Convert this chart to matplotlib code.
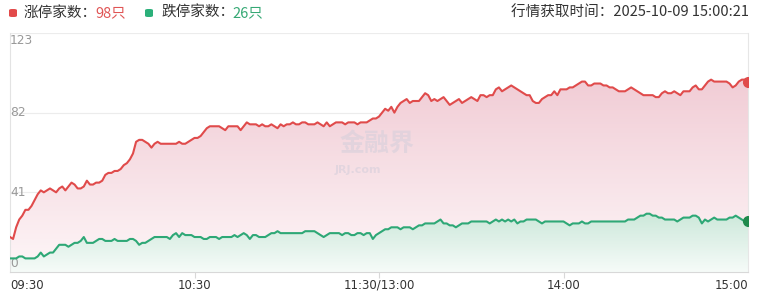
import numpy as np
import matplotlib
matplotlib.use("Agg")
import matplotlib.pyplot as plt
from matplotlib.patches import FancyBboxPatch, PathPatch

plt.rcParams['font.family'] = ['Noto Sans CJK SC', 'DejaVu Sans']

# limit-up / limit-down counts, one value per trading minute (09:30 .. 15:00)
limit_up = [
    18, 17, 23, 27, 29, 32, 32, 34, 37, 40,
    42, 41, 42, 43, 42, 41, 43, 44, 42, 44,
    46, 45, 43, 43, 44, 47, 45, 45, 46, 46,
    47, 50, 51, 51, 52, 52, 53, 55, 56, 58,
    61, 67, 68, 68, 67, 66, 64, 66, 67, 66,
    66, 66, 66, 66, 66, 67, 66, 66, 67, 68,
    69, 69, 70, 72, 74, 75, 75, 75, 75, 74,
    73, 75, 75, 75, 75, 73, 75, 77, 76, 76,
    76, 75, 76, 75, 75, 76, 75, 74, 76, 75,
    76, 76, 77, 76, 76, 77, 77, 76, 76, 76,
    77, 76, 75, 77, 75, 76, 77, 77, 77, 76,
    77, 77, 77, 76, 77, 77, 77, 78, 79, 79,
    80, 82, 84, 83, 85, 82, 85, 87, 88, 89,
    87, 88, 88, 88, 90, 92, 91, 88, 89, 88,
    89, 90, 88, 86, 87, 88, 89, 87, 88, 89,
    90, 89, 88, 91, 91, 90, 91, 91, 94, 95,
    93, 94, 95, 96, 95, 94, 93, 92, 91, 91,
    88, 87, 87, 89, 90, 91, 91, 93, 91, 94,
    94, 94, 95, 95, 96, 97, 98, 98, 96, 96,
    97, 97, 97, 96, 96, 95, 95, 94, 93, 93,
    93, 94, 95, 94, 93, 92, 91, 91, 91, 91,
    90, 90, 92, 93, 92, 92, 93, 92, 91, 93,
    93, 93, 95, 96, 94, 94, 96, 98, 99, 98,
    98, 98, 98, 98, 97, 95, 96, 98, 99, 99, 98,
]
limit_down = [
    7, 7, 7, 8, 8, 7, 7, 7, 7, 8,
    10, 8, 9, 10, 10, 12, 14, 14, 14, 13,
    14, 15, 15, 16, 18, 15, 15, 15, 16, 17,
    17, 16, 16, 16, 17, 16, 16, 16, 16, 17,
    17, 16, 14, 15, 15, 16, 17, 18, 18, 18,
    18, 18, 17, 19, 20, 18, 20, 19, 19, 19,
    18, 18, 18, 17, 17, 18, 18, 18, 17, 18,
    18, 18, 18, 19, 18, 19, 20, 19, 17, 19,
    19, 18, 18, 18, 19, 20, 20, 21, 20, 20,
    20, 20, 20, 20, 20, 20, 21, 21, 21, 21,
    20, 19, 18, 19, 20, 20, 20, 20, 19, 20,
    20, 19, 19, 20, 20, 19, 20, 20, 17, 19,
    20, 21, 22, 22, 23, 23, 23, 22, 23, 23,
    23, 22, 23, 24, 24, 25, 25, 25, 25, 26,
    27, 25, 25, 24, 24, 23, 24, 25, 25, 25,
    26, 26, 26, 26, 26, 26, 25, 26, 27, 26,
    27, 26, 27, 26, 27, 25, 26, 26, 27, 27,
    27, 27, 26, 25, 26, 26, 26, 26, 26, 26,
    26, 25, 24, 25, 25, 25, 26, 25, 25, 26,
    26, 26, 26, 26, 26, 26, 26, 26, 26, 26,
    26, 27, 27, 27, 28, 29, 29, 30, 30, 29,
    29, 28, 28, 27, 27, 27, 27, 26, 27, 28,
    28, 28, 29, 29, 28, 25, 27, 26, 27, 28,
    27, 27, 27, 27, 28, 28, 29, 28, 27, 26, 26,
]
x_tick_pos = [0, 60, 120, 180, 240]
x_tick_labels = ['09:30', '10:30', '11:30/13:00', '14:00', '15:00']
y_ticks = [0, 41, 82, 123]

RED = '#e04b4b'
GREEN = '#2ea876'

W, H = 763, 300
fig = plt.figure(figsize=(W / 100, H / 100), dpi=100)
ax = fig.add_axes([10 / W, 28 / H, 738 / W, 239 / H])

minutes = np.arange(len(limit_up))
ax.set_xlim(0, 240)
ax.set_ylim(0, 123)


def gradient_fill(x, y, top_rgb, bot_rgb, y_top, z):
    poly = ax.fill_between(x, y, 0, facecolor='none', edgecolor='none')
    clip = PathPatch(poly.get_paths()[0], transform=ax.transData,
                     facecolor='none', edgecolor='none')
    ax.add_patch(clip)
    t = np.linspace(0, 1, 200)[:, None]
    grad = np.zeros((200, 1, 3))
    for k in range(3):
        grad[:, :, k] = bot_rgb[k] + (top_rgb[k] - bot_rgb[k]) * t
    im = ax.imshow(grad, aspect='auto', extent=[0, 240, 0, y_top],
                   origin='lower', zorder=z, interpolation='bilinear')
    im.set_clip_path(clip)


gradient_fill(minutes, limit_up, (0.945, 0.80, 0.835), (0.995, 0.965, 0.972), 100, 1)
gradient_fill(minutes, limit_down, (0.80, 0.91, 0.855), (0.965, 0.985, 0.975), 30, 2)

# grid
for v in y_ticks[1:]:
    ax.axhline(v, color='#ececec', lw=0.8, zorder=0.5)

# watermark
ax.text(119.5, 66, '金融界', ha='center', va='center', fontsize=18, fontweight='bold',
        color='#d6cfdb', alpha=0.6, zorder=3)
ax.text(113, 52.5, 'JRJ.com', ha='center', va='center', fontsize=8, fontweight='bold',
        color='#d6cfdb', alpha=0.6, zorder=3, family=['DejaVu Sans'])

ax.plot(minutes, limit_up, color=RED, lw=1.5, zorder=4)
ax.plot(minutes, limit_down, color=GREEN, lw=1.5, zorder=4)
ax.plot(minutes[-1], limit_up[-1], 'o', color=RED, ms=7, zorder=5)
ax.plot(minutes[-1], limit_down[-1], 'o', color='#1f8a4c', ms=7, zorder=5)

ax.spines['top'].set_visible(False)
ax.spines['left'].set_color('#e3e3e3')
ax.spines['right'].set_color('#e6e6e6')
ax.spines['bottom'].set_color('#d8d8d8')
for s in ['left', 'right', 'bottom']:
    ax.spines[s].set_linewidth(0.8)

ax.set_yticks([])
ax.set_xticks(x_tick_pos[1:-1])
ax.set_xticklabels([])
ax.tick_params(axis='x', length=4, color='#d8d8d8', width=0.8)

# x labels
for pos, lab in zip(x_tick_pos, x_tick_labels):
    ha = 'left' if pos == 0 else ('right' if pos == 240 else 'center')
    ax.annotate(lab, xy=(pos, 0), xycoords=('data', 'axes fraction'),
                xytext=(0, -9.5), textcoords='offset points',
                ha=ha, va='center', fontsize=8.5, color='#333333',
                family=['DejaVu Sans'])

# y labels inside plot
for v in y_ticks:
    if v == 123:
        va, dy = 'top', -0.5
    elif v == 0:
        va, dy = 'bottom', 1.5
    else:
        va, dy = 'center', 0
    ax.annotate(str(v), xy=(0, v), xycoords=('axes fraction', 'data'),
                xytext=(0, dy), textcoords='offset points',
                ha='left', va=va, fontsize=8.8, color='#999999',
                family=['DejaVu Sans'])

# header
ty = 1 - 13 / H
for px, col in [(9, '#e24a4a'), (145, '#2bb07a')]:
    fig.add_artist(FancyBboxPatch((px / W, (H - 17) / H), 8 / W, 8 / H,
                                  boxstyle='round,pad=0,rounding_size=0.004',
                                  transform=fig.transFigure, facecolor=col,
                                  edgecolor='none'))
fig.text(24 / W, ty, '涨停家数：', ha='left', va='center', fontsize=10.5, color='#333333')
fig.text(95 / W, ty, '98只', ha='left', va='center', fontsize=10.5, color='#e05555')
fig.text(161 / W, ty, '跌停家数：', ha='left', va='center', fontsize=10.5, color='#333333')
fig.text(232 / W, ty, '26只', ha='left', va='center', fontsize=10.5, color='#35a874')
fig.text(749 / W, ty, '行情获取时间：2025-10-09 15:00:21', ha='right', va='center',
         fontsize=10.5, color='#333333')

fig.savefig('out.png', dpi=100)
